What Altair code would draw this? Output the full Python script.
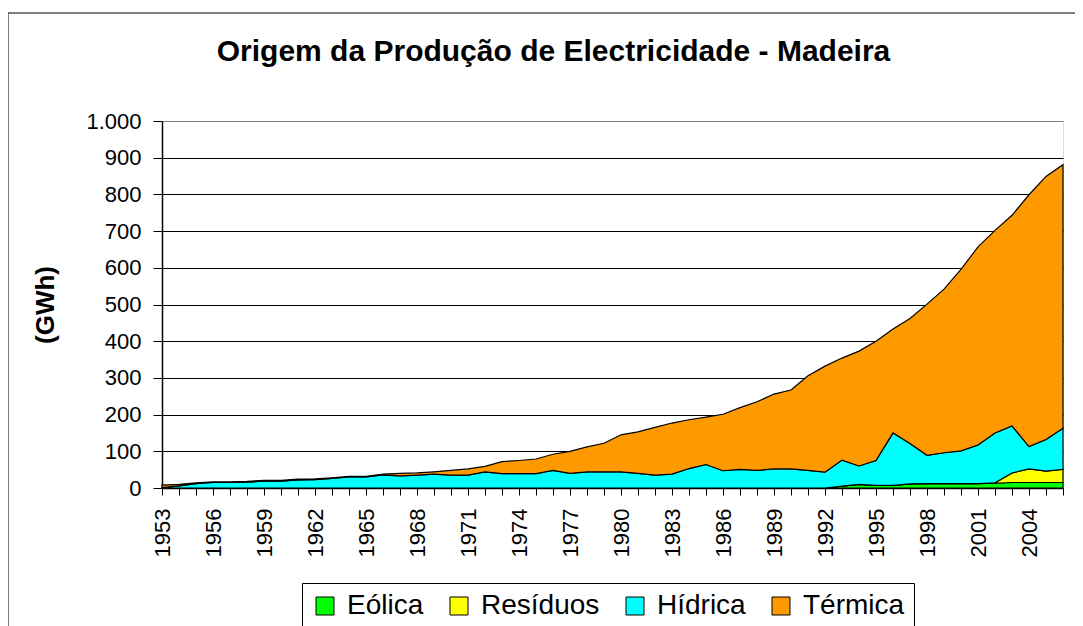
import altair as alt
import pandas as pd

years = list(range(1953, 2007))

eolica = [0, 0, 0, 0, 0, 0, 0, 0, 0, 0,
          0, 0, 0, 0, 0, 0, 0, 0, 0, 0,
          0, 0, 0, 0, 0, 0, 0, 0, 0, 0,
          0, 0, 0, 0, 0, 0, 0, 0, 0, 0,
          5, 10, 7, 7, 11, 12, 12, 12, 12, 13,
          15, 15, 15, 15]

residuos = [0, 0, 0, 0, 0, 0, 0, 0, 0, 0,
            0, 0, 0, 0, 0, 0, 0, 0, 0, 0,
            0, 0, 0, 0, 0, 0, 0, 0, 0, 0,
            0, 0, 0, 0, 0, 0, 0, 0, 0, 0,
            0, 0, 0, 0, 0, 0, 0, 0, 0, 1,
            26, 37, 31, 36]

hidrica = [1, 6, 12, 15, 15, 16, 19, 19, 22, 23,
           26, 30, 30, 36, 33, 35, 38, 35, 35, 44,
           39, 39, 39, 48, 40, 44, 44, 44, 40, 35,
           38, 53, 64, 47, 51, 48, 52, 52, 48, 43,
           71, 50, 68, 143, 110, 77, 84, 89, 105, 136,
           128, 61, 86, 112]

termica = [7, 4, 2, 2, 2, 2, 2, 2, 2, 2,
           2, 2, 2, 2, 7, 6, 6, 13, 17, 15,
           33, 36, 40, 44, 60, 68, 78, 101, 113, 130,
           139, 133, 129, 154, 168, 187, 204, 215, 258, 289,
           278, 313, 325, 283, 341, 412, 446, 495, 540, 552,
           574, 686, 717, 718]

series = ["Eólica", "Resíduos", "Hídrica", "Térmica"]
colors = ["#00FF00", "#FFFF00", "#00FFFF", "#FF9900"]
y_ticks = [0, 100, 200, 300, 400, 500, 600, 700, 800, 900, 1000]

rows = []
for k, (name, vals) in enumerate(zip(series, [eolica, residuos, hidrica, termica])):
    for yr, v in zip(years, vals):
        rows.append({"Ano": yr, "Fonte": name, "GWh": v, "ordem": k})
df = pd.DataFrame(rows)

FONT = "Liberation Sans"
W, H = 901, 367

areas = alt.Chart(df).mark_area(
    stroke="black", strokeWidth=1.2, strokeJoin="miter"
).encode(
    x=alt.X(
        "Ano:Q",
        scale=alt.Scale(domain=[1953, 2006], nice=False, zero=False),
        axis=alt.Axis(
            values=years,
            labelExpr="(datum.value - 1953) % 3 == 0 ? toString(datum.value) : ''",
            labelAngle=270,
            labelAlign="right",
            labelBaseline="middle",
            labelPadding=13,
            labelFontSize=22,
            labelFont=FONT,
            labelColor="black",
            labelOverlap=False,
            labelFlush=False,
            tickSize=7,
            tickColor="black",
            domainColor="black",
            domainWidth=1.5,
            grid=False,
            title=None,
        ),
    ),
    y=alt.Y(
        "GWh:Q",
        stack="zero",
        scale=alt.Scale(domain=[0, 1000], nice=False),
        axis=alt.Axis(
            values=y_ticks,
            labelExpr="replace(format(datum.value, ','), ',', '.')",
            labelFontSize=22,
            labelFont=FONT,
            labelColor="black",
            labelPadding=12,
            tickSize=9,
            tickColor="black",
            domainColor="black",
            domainWidth=1.5,
            grid=True,
            gridColor={"condition": {"test": "datum.value === 1000", "value": "#808080"}, "value": "black"},
            gridWidth=1,
            title="(GWh)",
            titleFont=FONT,
            titleFontSize=26,
            titleFontWeight="bold",
            titleColor="black",
            titleAngle=270,
            titleX=-117,
            titleY=H / 2,
            titleAlign="center",
            titleBaseline="middle",
        ),
    ),
    color=alt.Color(
        "Fonte:N",
        scale=alt.Scale(domain=series, range=colors),
        legend=alt.Legend(
            orient="none",
            legendX=140,
            legendY=462,
            direction="horizontal",
            columns=4,
            title=None,
            symbolType="square",
            symbolSize=324,
            symbolStrokeColor="black",
            symbolStrokeWidth=1,
            labelFont=FONT,
            labelFontSize=28,
            labelColor="black",
            labelOffset=8,
            columnPadding=21,
            padding=9,
            strokeColor="black",
            fillColor="white",
        ),
    ),
    order=alt.Order("ordem:Q", sort="ascending"),
)

frame_top = alt.Chart(alt.Data(values=[{"f": 1}])).mark_rule(
    color="black", strokeWidth=1
).encode(x=alt.value(-154), x2=alt.value(1100), y=alt.value(-108))

frame_left = alt.Chart(alt.Data(values=[{"f": 1}])).mark_rule(
    color="black", strokeWidth=1
).encode(x=alt.value(-154), y=alt.value(-108), y2=alt.value(700))

chart = alt.layer(frame_top, frame_left, areas).properties(
    width=W,
    height=H,
    padding={"left": 154, "top": 113, "right": 12, "bottom": 138},
    autosize=alt.AutoSizeParams(type="none"),
    title=alt.TitleParams(
        "Origem da Produção de Electricidade - Madeira",
        font=FONT,
        fontSize=30,
        fontWeight="bold",
        color="black",
        anchor="middle",
        frame="group",
        dx=-59,
        dy=78,
        offset=0,
        baseline="alphabetic",
    ),
).configure_view(
    stroke="#808080", strokeWidth=1, fill="#C0C0C0"
).configure(background="white")

chart.save("out.html", embed_options={"renderer": "svg", "actions": False})
